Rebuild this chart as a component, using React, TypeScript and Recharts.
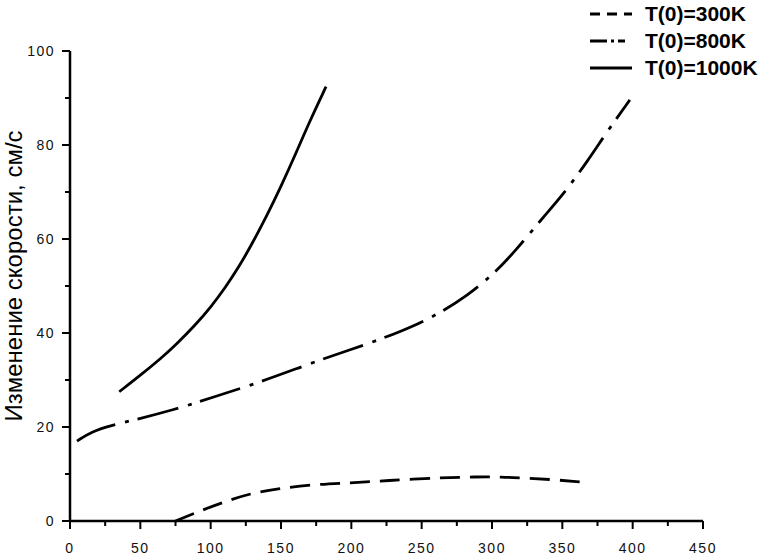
import { LineChart, Line, XAxis, YAxis, Legend } from 'recharts'

// x - ось абсцисс, y - изменение скорости, см/с
const x300 = [75, 88, 107, 126, 147, 175, 199, 225, 263, 289, 306, 325, 344, 363]
const y300 = [0, 1.6, 3.8, 5.7, 6.9, 7.8, 8.1, 8.6, 9.2, 9.4, 9.4, 9.1, 8.8, 8.3]

const x800 = [5, 15, 30, 50, 75, 88, 100, 135, 175, 200, 223, 246, 263, 282, 302, 317, 336, 351, 368, 381, 398]
const y800 = [17, 19, 20.4, 21.8, 23.8, 25, 26.2, 29.5, 34, 36.5, 38.9, 41.7, 44.3, 47.8, 52.8, 57.6, 64.5, 69.6, 76.6, 82.5, 89.6]

const x1000 = [35, 50, 65, 75, 90, 100, 110, 120, 130, 140, 150, 160, 170, 182]
const y1000 = [27.5, 31, 34.7, 37.4, 42, 45.5, 49.5, 54, 59.3, 65, 71.2, 77.8, 84.8, 92.4]

const xTicks = [0, 25, 50, 75, 100, 125, 150, 175, 200, 225, 250, 275, 300, 325, 350, 375, 400, 425, 450]
const yTicks = [0, 10, 20, 30, 40, 50, 60, 70, 80, 90, 100]

const yTitle = 'Изменение скорости, см/с'

const zip = (xs: number[], ys: number[]) => xs.map((x, i) => ({ x, y: ys[i] }))

const SERIES = [
  { name: 'T(0)=300K', data: zip(x300, y300), dash: '20 10', legendDash: '10 7' },
  { name: 'T(0)=800K', data: zip(x800, y800), dash: '42 10 4 9', legendDash: '17 4 3 4 7 20' },
  { name: 'T(0)=1000K', data: zip(x1000, y1000), dash: undefined, legendDash: undefined },
]

const FONT = '"Liberation Sans", Arial, sans-serif'

const XTick = ({ x, y, payload }: any) => {
  const major = payload.value % 50 === 0
  return (
    <g>
      <line x1={x} x2={x} y1={y} y2={y + (major ? 8 : 5)} stroke='#000' strokeWidth={2} />
      {major && (
        <text x={x} y={y + 32} textAnchor='middle' fontFamily={FONT} fontSize={14} letterSpacing={1.5} fill='#111'>
          {payload.value}
        </text>
      )}
    </g>
  )
}

const YTick = ({ x, y, payload }: any) => {
  const major = payload.value % 20 === 0
  return (
    <g>
      <line x1={x} x2={x - (major ? 8 : 5)} y1={y} y2={y} stroke='#000' strokeWidth={2} />
      {major && (
        <text x={x - 15} y={y + 5} textAnchor='end' fontFamily={FONT} fontSize={14} letterSpacing={1.5} fill='#111'>
          {payload.value}
        </text>
      )}
    </g>
  )
}

const renderLegend = () => (
  <div style={{ fontFamily: FONT, fontSize: 21, fontWeight: 'bold', color: '#000' }}>
    {SERIES.map((s) => (
      <div key={s.name} style={{ display: 'flex', alignItems: 'center', height: 27 }}>
        <svg width={42} height={6}>
          <line x1={0} x2={42} y1={3} y2={3} stroke='#000' strokeWidth={3} strokeDasharray={s.legendDash} />
        </svg>
        <span style={{ marginLeft: 13 }}>{s.name}</span>
      </div>
    ))}
  </div>
)

export default function App() {
  return (
    <div style={{ position: 'absolute', left: 0, top: 0, background: '#fff' }}>
      <LineChart width={768} height={556} margin={{ top: 51, right: 65, bottom: 0, left: 0 }}>
        <XAxis
          type='number'
          dataKey='x'
          domain={[0, 450]}
          ticks={xTicks}
          interval={0}
          height={35}
          tickSize={0}
          tickMargin={0}
          tick={<XTick />}
          axisLine={{ stroke: '#000', strokeWidth: 2.5 }}
          tickLine={false}
          allowDataOverflow
        />
        <YAxis
          type='number'
          domain={[0, 100]}
          ticks={yTicks}
          interval={0}
          width={70}
          tickSize={0}
          tickMargin={0}
          tick={<YTick />}
          axisLine={{ stroke: '#000', strokeWidth: 2.5 }}
          tickLine={false}
          label={{
            value: yTitle,
            content: () => (
              <text
                x={0}
                y={0}
                transform='translate(22 276) rotate(-90)'
                textAnchor='middle'
                fontFamily={FONT}
                fontSize={24}
                fill='#000'
              >
                {yTitle}
              </text>
            ),
          }}
        />
        <Legend
          layout='vertical'
          align='center'
          verticalAlign='middle'
          content={renderLegend}
          wrapperStyle={{ top: 0, left: 590, width: 178 }}
        />
        {SERIES.map((s) => (
          <Line
            key={s.name}
            name={s.name}
            data={s.data}
            dataKey='y'
            type='basis'
            stroke='#000'
            strokeWidth={2.8}
            strokeDasharray={s.dash}
            dot={false}
            activeDot={false}
            isAnimationActive={false}
          />
        ))}
      </LineChart>
    </div>
  )
}
